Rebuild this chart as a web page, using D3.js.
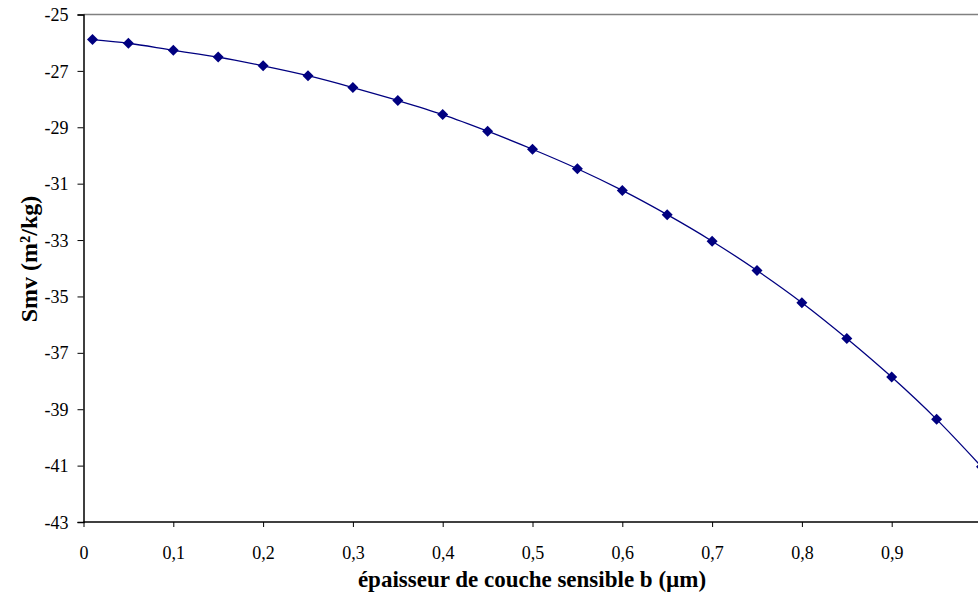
<!DOCTYPE html>
<html>
<head>
<meta charset="utf-8">
<script src="https://cdn.jsdelivr.net/npm/d3@7"></script>
<style>
  html, body { margin: 0; padding: 0; background: #fff; }
  svg { display: block; }
</style>
</head>
<body>
<svg id="chart" width="978" height="598"></svg>
<script>
/* ── Data ─────────────────────────────────────────────────────────────────── */

const thickness = [0.01, 0.05, 0.1, 0.15, 0.2, 0.25, 0.3, 0.35, 0.4, 0.45,
  0.5, 0.55, 0.6, 0.65, 0.7, 0.75, 0.8, 0.85, 0.9, 0.95, 1.0];

const smv = [-25.89, -26.02, -26.27, -26.51, -26.82, -27.17, -27.59, -28.05,
  -28.55, -29.14, -29.78, -30.47, -31.24, -32.10, -33.04, -34.08, -35.22,
  -36.49, -37.86, -39.36, -41.04];

const xTicks = [0, 0.1, 0.2, 0.3, 0.4, 0.5, 0.6, 0.7, 0.8, 0.9];
const yTicks = [-25, -27, -29, -31, -33, -35, -37, -39, -41, -43];

const xTitle = "épaisseur de couche sensible b (µm)";
const yTitle = "Smv (m²/kg)";

/* ── Layout ───────────────────────────────────────────────────────────────── */

const FONT = "Liberation Serif";
const svg = d3.select("#chart").attr("font-family", FONT);
const m = { left: 83.5, top: 14.5 };
const W = 898, H = 507.5;
const navy = "#000080";

const x = d3.scaleLinear().domain([0, 1]).range([m.left, m.left + W]);
const y = d3.scaleLinear().domain([-43, -25]).range([m.top + H, m.top]);

const fmt = (v) => String(v).replace(".", ",");

// top border of plot area
svg.append("line")
  .attr("x1", m.left).attr("x2", 978)
  .attr("y1", m.top).attr("y2", m.top)
  .attr("stroke", "#808080").attr("stroke-width", 1.5);

// Y axis
const yAxis = svg.append("g")
  .attr("transform", `translate(${m.left},0)`)
  .call(d3.axisLeft(y).tickValues(yTicks).tickSize(6).tickPadding(9).tickFormat(fmt));

// X axis
const xAxis = svg.append("g")
  .attr("transform", `translate(0,${m.top + H})`)
  .call(d3.axisBottom(x).tickValues(xTicks).tickSize(5).tickPadding(19).tickFormat(fmt));

[yAxis, xAxis].forEach((g) => {
  g.attr("font-family", FONT).attr("font-size", 18);
  g.select(".domain").attr("stroke", "#000").attr("stroke-width", 1.5);
  g.selectAll(".tick line").attr("stroke", "#000").attr("stroke-width", 1);
  g.selectAll(".tick text").attr("fill", "#000");
});
yAxis.selectAll(".tick text").attr("dy", "0.34em");
xAxis.select(".domain").attr("d", `M${m.left},0H978`);

// Axis titles
svg.append("text")
  .attr("x", 532).attr("y", 587)
  .attr("text-anchor", "middle")
  .attr("font-size", 23).attr("font-weight", "bold")
  .text(xTitle);

svg.append("text")
  .attr("transform", "rotate(-90)")
  .attr("x", -259).attr("y", 37)
  .attr("text-anchor", "middle")
  .attr("font-size", 24).attr("font-weight", "bold")
  .text(yTitle);

/* ── Series ───────────────────────────────────────────────────────────────── */

const pts = thickness.map((t, i) => [t, smv[i]]);

const plot = svg.append("g");

plot.append("path")
  .datum(pts)
  .attr("fill", "none")
  .attr("stroke", navy)
  .attr("stroke-width", 1.3)
  .attr("d", d3.line()
    .x((d) => x(d[0]))
    .y((d) => y(d[1]))
    .curve(d3.curveCatmullRom.alpha(0.5)));

plot.selectAll("path.marker")
  .data(pts)
  .join("path")
  .attr("class", "marker")
  .attr("transform", (d) => `translate(${x(d[0])},${y(d[1])})`)
  .attr("d", "M0,-5.5L5.5,0L0,5.5L-5.5,0Z")
  .attr("fill", navy);
</script>
</body>
</html>
